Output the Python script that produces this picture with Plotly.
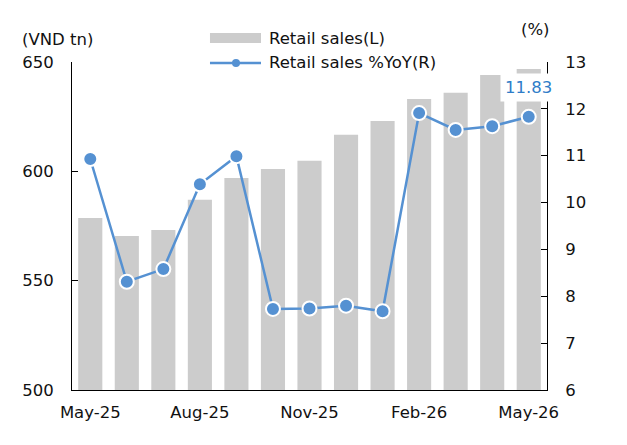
import plotly.graph_objects as go

months = ["May-25", "Jun-25", "Jul-25", "Aug-25", "Sep-25", "Oct-25", "Nov-25",
          "Dec-25", "Jan-26", "Feb-26", "Mar-26", "Apr-26", "May-26"]
retail_sales = [578.7, 570.4, 573.2, 587.0, 597.0, 601.1, 604.8,
                616.7, 623.0, 633.1, 635.9, 644.1, 646.8]
retail_yoy = [10.93, 8.31, 8.58, 10.39, 10.99, 7.73, 7.74,
              7.80, 7.68, 11.91, 11.55, 11.63, 11.83]
tick_months = ["May-25", "Aug-25", "Nov-25", "Feb-26", "May-26"]

FONT = "DejaVu Sans"
FS = 16.5
BAR_C = "#CCCCCC"
LINE_C = "#5591D2"

fig = go.Figure()
fig.add_trace(go.Bar(x=months, y=retail_sales, marker=dict(color=BAR_C, line=dict(width=0)),
                     name="Retail sales(L)", showlegend=False))
fig.add_trace(go.Scatter(x=months, y=retail_yoy, yaxis="y2", mode="lines+markers",
                         line=dict(color=LINE_C, width=2.5),
                         marker=dict(size=14, color=LINE_C, line=dict(color="white", width=2)),
                         name="Retail sales %YoY(R)", showlegend=False))

# page body has an 8px margin, so the figure is shifted by 8px
fig.update_layout(
    width=619, height=437,
    margin=dict(l=64, r=80, t=54, b=55, autoexpand=False),
    paper_bgcolor="white", plot_bgcolor="white",
    font=dict(family=FONT, size=FS, color="#111111"),
    bargap=0.34,
    xaxis=dict(type="category", tickvals=tick_months, ticktext=tick_months,
               range=[-0.5, len(months) - 0.5],
               showline=True, linecolor="black", linewidth=1, ticks="",
               showgrid=False, automargin=False, ticklabelstandoff=7),
    yaxis=dict(range=[500, 650], tickvals=[500, 550, 600, 650], showline=True,
               linecolor="black", linewidth=1, ticks="inside", ticklen=6,
               tickcolor="black", showgrid=False, zeroline=False,
               ticklabelstandoff=14, automargin=False),
    yaxis2=dict(range=[6, 13], overlaying="y", side="right", dtick=1,
                showline=True, linecolor="black", linewidth=1, ticks="inside",
                ticklen=6, tickcolor="black", showgrid=False, zeroline=False,
                ticklabelstandoff=14, automargin=False),
)

# value label on last point
fig.add_annotation(x=months[-1], y=retail_yoy[-1], yref="y2", text=f"{retail_yoy[-1]:.2f}",
                   showarrow=False, yshift=29, bgcolor="white", borderpad=4,
                   xanchor="center", yanchor="middle",
                   font=dict(color="#2F7DC8", size=FS))

# axis unit labels
fig.add_annotation(xref="paper", yref="paper", x=-0.03, y=1.07, text="(VND tn)",
                   xanchor="center", yanchor="middle", showarrow=False, font=dict(size=FS))
fig.add_annotation(xref="paper", yref="paper", x=0.975, y=1.10, text="(%)",
                   xanchor="center", yanchor="middle", showarrow=False, font=dict(size=FS))

# custom legend
fig.add_shape(type="rect", xref="paper", yref="paper", x0=0.2905, x1=0.3979,
              y0=1.058, y1=1.0884, fillcolor=BAR_C, line=dict(width=0))
fig.add_shape(type="line", xref="paper", yref="paper", x0=0.2905, x1=0.3979,
              y0=0.997, y1=0.997, line=dict(color=LINE_C, width=2.5))
fig.add_shape(type="circle", xref="paper", yref="paper", x0=0.3368, x1=0.3537,
              y0=0.9848, y1=1.0091, fillcolor=LINE_C, line=dict(width=0))
fig.add_annotation(xref="paper", yref="paper", x=0.4105, y=1.073, xanchor="left",
                   yanchor="middle", text="Retail sales(L)", showarrow=False,
                   font=dict(size=FS))
fig.add_annotation(xref="paper", yref="paper", x=0.4105, y=0.997, xanchor="left",
                   yanchor="middle", text="Retail sales %YoY(R)", showarrow=False,
                   font=dict(size=FS))

fig.write_html("out.html")
